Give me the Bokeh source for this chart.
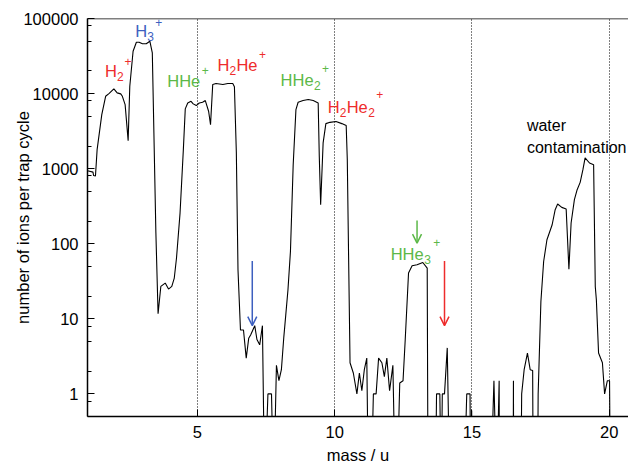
import numpy as np
from bokeh.plotting import figure
from bokeh.models import (FixedTicker, PrintfTickFormatter, Span, Arrow, OpenHead,
                          Range1d, Label)
from bokeh.embed import file_html
from bokeh.resources import INLINE

# ---- data (mass in u, ions per trap cycle; 0 = below scale)
mass = [1.00, 1.20, 1.22, 1.29, 1.35, 1.52, 1.66, 1.78, 1.96, 2.08, 2.21, 2.27, 2.37, 2.48,
        2.54, 2.66, 2.78, 2.88, 3.00, 3.14, 3.27, 3.36, 3.49, 3.57, 3.67, 3.83, 3.95,
        4.07, 4.16, 4.24, 4.37, 4.49, 4.56, 4.65, 4.77, 4.85, 4.96, 5.07, 5.19, 5.29,
        5.41, 5.48, 5.56, 5.68, 5.93, 6.11, 6.29, 6.35, 6.42, 6.48, 6.57, 6.68, 6.78,
        6.87, 6.94, 7.09, 7.17, 7.27, 7.37, 7.45, 7.57, 7.70, 7.78, 7.88, 7.97, 8.06,
        8.15, 8.22, 8.30, 8.39, 8.49, 8.59, 8.67, 8.85, 9.04, 9.22, 9.40, 9.44, 9.49,
        9.58, 9.68, 9.83, 10.05, 10.26, 10.42, 10.46, 10.56, 10.68, 10.81, 10.90, 10.99,
        11.08, 11.17, 11.23, 11.33, 11.41, 11.51, 11.60, 11.72, 11.81, 11.90, 12.00,
        12.12, 12.21, 12.27, 12.37, 12.49, 12.57, 12.66, 12.69, 12.82, 13.00, 13.21,
        13.37, 13.40, 13.67, 13.71, 13.83, 13.88, 13.92, 14.00, 14.10, 14.19, 14.71,
        14.81, 14.93, 14.95, 14.99, 15.01, 15.68, 15.80, 15.90, 15.99, 16.00, 16.50,
        16.51, 16.52, 16.78, 16.81, 16.90, 17.02, 17.12, 17.21, 17.23, 17.39, 17.41,
        17.51, 17.61, 17.73, 17.92, 18.03, 18.12, 18.27, 18.43, 18.53, 18.61, 18.73,
        18.83, 18.94, 19.04, 19.12, 19.28, 19.43, 19.49, 19.53, 19.61, 19.75, 19.83,
        19.93, 20.01, 20.04, 20.70]
counts = [940, 900, 810, 800, 1790, 5250, 9200, 10000, 11550, 10220, 9910, 9200, 7130, 2360,
          12500, 36600, 48300, 48300, 46000, 46000, 49800, 34900, 140, 11.7, 27, 29.9, 24.9,
          27, 34.9, 64, 256, 1790, 6250, 7500, 7890, 7290, 6920, 7500, 7660, 8070,
          5810, 3860, 13200, 13600, 13200, 13600, 13600, 12300, 1630, 45, 7.1, 7.1, 3.0,
          5.5, 6.1, 8.1, 5.3, 4.5, 8.1, 0, 1, 1, 0, 2.4, 1.5, 2.1,
          5.8, 11.3, 24.4, 79, 1130, 6120, 7660, 8070, 8320, 8070, 7500, 1460, 331,
          2200, 3980, 4140, 4240, 3980, 3750, 1320, 2.6, 1.9, 1.0, 1.9, 1.1,
          2.1, 3.0, 0, 0, 1.0, 1.0, 3.0, 2.6, 1.7, 3.0, 1.1,
          2.4, 0, 0, 1.4, 1.5, 5.3, 24.4, 40.7, 50.9, 52.5, 56.3,
          47.4, 0, 0, 1, 1, 0, 1, 1, 4.1, 0, 0,
          1, 1, 0, 0.6, 0, 0, 1.5, 0, 1.5, 0, 0,
          1.5, 0, 0, 1, 2.1, 3.5, 2.1, 2.05, 0, 0, 1,
          17, 58, 113, 179, 284, 338, 305, 290, 45.8, 189, 386,
          525, 657, 970, 1390, 1190, 1130, 27, 17.9, 3.5, 2.6, 1.0,
          1.5, 1.5, 0, 0]

x_ticks = [5, 10, 15, 20]
y_ticks = [1, 10, 100, 1000, 10000, 100000]
y_minor = [k * 10.0 ** d for d in range(-1, 5) for k in (2, 5, 8)]

RED = "#ee2c2c"
BLUE = "#3d5fbf"
GREEN = "#5cb848"
FONT = "Liberation Sans"
FS = "16.5px"

plot_counts = [c if c > 0 else 0.05 for c in counts]

p = figure(width=628, height=466, y_axis_type="log",
           x_range=Range1d(1, 20.7), y_range=Range1d(0.5, 1e5),
           output_backend="svg", toolbar_location=None,
           x_axis_label="mass / u", y_axis_label="number of ions per trap cycle",
           min_border_left=87, min_border_right=0, min_border_top=18, min_border_bottom=50)
p.outline_line_color = None
p.background_fill_color = "white"
p.border_fill_color = "white"

p.line(mass, plot_counts, line_color="black", line_width=1.1)

# axes
p.xaxis.ticker = FixedTicker(ticks=x_ticks)
p.yaxis.ticker = FixedTicker(ticks=y_ticks, minor_ticks=y_minor)
p.yaxis.formatter = PrintfTickFormatter(format="%d")
for ax in (p.xaxis, p.yaxis):
    ax.axis_line_width = 1.5
    ax.axis_line_color = "black"
    ax.major_tick_in = 7
    ax.major_tick_out = 0
    ax.minor_tick_in = 4
    ax.minor_tick_out = 0
    ax.major_tick_line_color = "black"
    ax.minor_tick_line_color = "black"
    ax.major_label_text_font = FONT
    ax.major_label_text_font_size = FS
    ax.major_label_text_color = "black"
    ax.major_label_standoff = 9
    ax.axis_label_text_font = FONT
    ax.axis_label_text_font_size = FS
    ax.axis_label_text_font_style = "normal"
    ax.axis_label_text_color = "black"
p.xaxis.minor_tick_line_color = None
p.xaxis.axis_label_standoff = 5
p.yaxis.axis_label_standoff = -12

p.xgrid.ticker = FixedTicker(ticks=x_ticks)
p.xgrid.grid_line_color = "black"
p.xgrid.grid_line_dash = "1 2"
p.xgrid.grid_line_width = 1
p.ygrid.grid_line_color = None

p.add_layout(Span(location=1e5, dimension="width", line_color="black", line_width=1.5))


def formula(x, y, pieces, color):
    for txt, dx, dy, fs in pieces:
        p.add_layout(Label(x=x, y=y, text=txt, x_offset=dx, y_offset=dy,
                           text_font=FONT, text_font_size=fs, text_color=color,
                           text_align="left", text_baseline="alphabetic"))


S = "12px"
formula(1.64, 20270, [("H", 0, 0, FS), ("2", 12, -6, S), ("+", 19.5, 9, S)], RED)
formula(2.74, 69180, [("H", 0, 0, FS), ("3", 12, -6, S), ("+", 20, 8, S)], BLUE)
formula(3.905, 14910, [("HHe", 0, 0, FS), ("+", 34.5, 10, S)], GREEN)
formula(5.73, 24360, [("H", 0, 0, FS), ("2", 12, -6, S), ("He", 19, 0, FS),
                      ("+", 41.5, 10, S)], RED)
formula(8.03, 15370, [("HHe", 0, 0, FS), ("2", 33.5, -6, S), ("+", 41.5, 11, S)], GREEN)
formula(9.745, 6710, [("H", 0, 0, FS), ("2", 12, -6, S), ("He", 19, 0, FS),
                      ("2", 40.5, -6, S), ("+", 48.5, 12, S)], RED)
formula(12.04, 73.6, [("HHe", 0, 0, FS), ("3", 33.5, -6, S), ("+", 42.5, 11, S)], GREEN)
formula(17.0, 3746, [("water", 0, 0, "16px")], "black")
formula(17.0, 1906, [("contamination", 0, 0, "16px")], "black")

# arrows
for ax_, y0, y1, c in [(7.0, 59, 8.1, BLUE), (14.0, 59, 8.1, RED), (13.0, 204, 102, GREEN)]:
    p.add_layout(Arrow(end=OpenHead(size=9, line_color=c, line_width=1.5),
                       x_start=ax_, y_start=y0, x_end=ax_, y_end=y1,
                       line_color=c, line_width=1.5))

open("out.html", "w").write(file_html(p, INLINE))
